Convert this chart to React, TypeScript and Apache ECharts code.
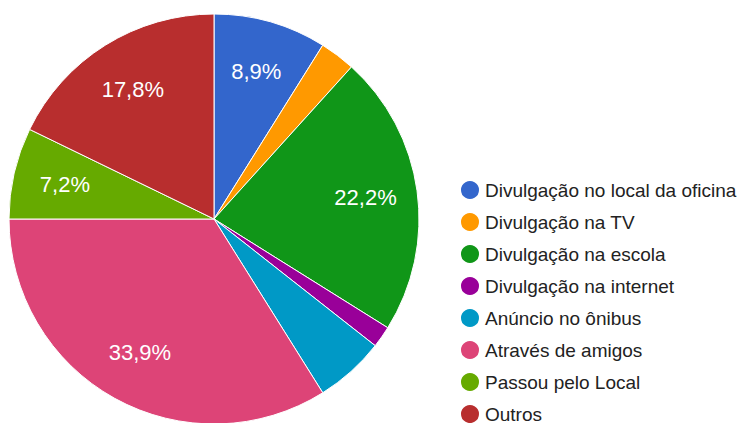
import React, { useEffect, useRef } from "react";
import * as echarts from "echarts";

const categories = [
  "Divulgação no local da oficina",
  "Divulgação na TV",
  "Divulgação na escola",
  "Divulgação na internet",
  "Anúncio no ônibus",
  "Através de amigos",
  "Passou pelo Local",
  "Outros",
];
const values = [8.9, 2.8, 22.2, 1.7, 5.5, 33.9, 7.2, 17.8];
const colors = ["#3366cc", "#ff9900", "#109618", "#990099", "#0099c6", "#dd4477", "#66aa00", "#b82e2e"];
const labelMin = 7;

export default function App() {
  const ref = useRef<HTMLDivElement>(null);
  useEffect(() => {
    if (!ref.current) return;
    const chart = echarts.init(ref.current, undefined, { renderer: "svg" });
    const data = categories.map((name, i) => ({ name, value: values[i] }));
    chart.setOption({
      animation: false,
      color: colors,
      legend: {
        type: "plain",
        orient: "vertical",
        left: 454,
        top: 174,
        height: 300,
        icon: "circle",
        itemWidth: 20,
        itemHeight: 20,
        itemGap: 10,
        textStyle: { fontSize: 19, color: "#222", fontFamily: "Liberation Sans, Arial, sans-serif" },
        data: categories,
      },
      series: [
        {
          type: "pie",
          center: [214, 219],
          radius: [0, 205],
          startAngle: 90,
          clockwise: true,
          data,
          label: { show: false },
          labelLine: { show: false },
          itemStyle: { borderColor: "#fff", borderWidth: 1 },
          emphasis: { disabled: true },
        },
        {
          type: "pie",
          center: [214, 219],
          radius: [95, 205],
          startAngle: 90,
          clockwise: true,
          silent: true,
          legendHoverLink: false,
          data: data.map((d) => ({ ...d, itemStyle: { color: "rgba(0,0,0,0)" } })),
          itemStyle: { color: "rgba(0,0,0,0)", borderWidth: 0 },
          labelLine: { show: false },
          label: {
            show: true,
            position: "inside",
            color: "#fff",
            fontSize: 22,
            fontFamily: "Liberation Sans, Arial, sans-serif",
            formatter: (p: any) =>
              p.value >= labelMin ? p.value.toFixed(1).replace(".", ",") + "%" : "",
          },
          emphasis: { disabled: true },
        },
      ],
    });
    return () => chart.dispose();
  }, []);
  return (
    <div
      ref={ref}
      style={{ position: "fixed", left: 0, top: 0, width: 747, height: 423, background: "#fff" }}
    />
  );
}
